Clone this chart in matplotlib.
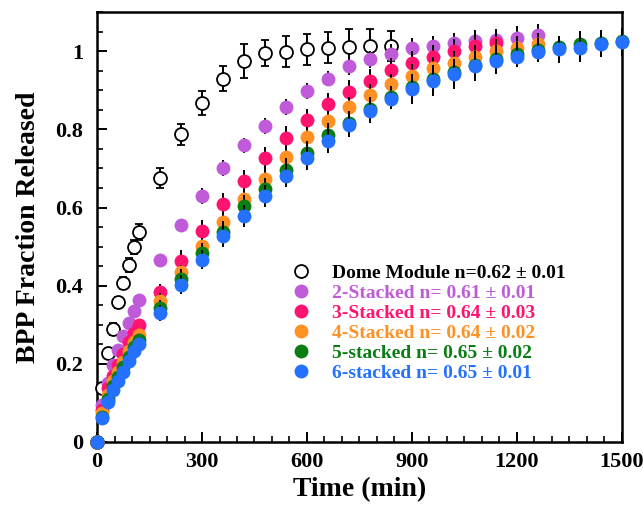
import matplotlib
matplotlib.use('Agg')
import matplotlib.pyplot as plt
from matplotlib.lines import Line2D
from matplotlib.ticker import MultipleLocator, FuncFormatter

plt.rcParams['font.family'] = ['Liberation Serif', 'DejaVu Serif']
plt.rcParams['font.weight'] = 'bold'

# time points (min)
t_dome = [0, 15, 30, 45, 60, 75, 90, 105, 120, 180, 240, 300, 360, 420, 480, 540, 600, 660, 720, 780, 840]
t_full = [0, 15, 30, 45, 60, 75, 90, 105, 120, 180, 240, 300, 360, 420, 480, 540, 600, 660, 720, 780, 840,
          900, 960, 1020, 1080, 1140, 1200, 1260, 1320, 1380, 1440, 1500]

# fraction released
dome = [0, 0.138, 0.227, 0.29, 0.357, 0.407, 0.454, 0.498, 0.537, 0.676, 0.787, 0.868, 0.930, 0.975,
        0.995, 0.999, 1.005, 1.009, 1.011, 1.014, 1.014]
dome_err = [0, 0.012, 0.012, 0.015, 0.015, 0.015, 0.018, 0.018, 0.02, 0.025, 0.026, 0.03, 0.032, 0.043,
            0.034, 0.04, 0.04, 0.04, 0.047, 0.043, 0.038]

stack2 = [0, 0.095, 0.152, 0.197, 0.236, 0.27, 0.304, 0.334, 0.364, 0.467, 0.556, 0.629, 0.702, 0.759,
          0.808, 0.857, 0.898, 0.930, 0.961, 0.979, 0.993, 1.008, 1.014, 1.022, 1.026, 1.029, 1.035, 1.041]
stack3 = [0, 0.082, 0.138, 0.168, 0.196, 0.226, 0.255, 0.279, 0.30, 0.385, 0.464, 0.541, 0.608, 0.667,
          0.726, 0.779, 0.823, 0.864, 0.896, 0.924, 0.953, 0.971, 0.986, 1.001, 1.014, 1.022]
stack4 = [0, 0.075, 0.12, 0.155, 0.18, 0.205, 0.232, 0.255, 0.274, 0.36, 0.434, 0.501, 0.564, 0.622,
          0.674, 0.729, 0.781, 0.821, 0.857, 0.887, 0.915, 0.937, 0.956, 0.971, 0.986, 1.001, 1.009, 1.018]
stack5 = [0, 0.065, 0.11, 0.142, 0.167, 0.192, 0.218, 0.242, 0.262, 0.343, 0.417, 0.484, 0.538, 0.603,
          0.648, 0.697, 0.740, 0.786, 0.817, 0.852, 0.882, 0.908, 0.929, 0.946, 0.966, 0.98, 0.993, 1.004,
          1.01, 1.018, 1.022, 1.025]
stack6 = [0, 0.061, 0.103, 0.132, 0.155, 0.180, 0.206, 0.232, 0.251, 0.33, 0.403, 0.467, 0.527, 0.578,
          0.629, 0.682, 0.726, 0.770, 0.810, 0.846, 0.877, 0.903, 0.924, 0.941, 0.961, 0.975, 0.986, 0.999,
          1.005, 1.009, 1.018, 1.024]

stack2_err = [0, 0.01, 0.01, 0.01, 0.01, 0.01, 0.01, 0.012, 0.012, 0.015, 0.015, 0.02, 0.02, 0.02,
              0.02, 0.02, 0.02, 0.02, 0.022, 0.022, 0.025, 0.025, 0.025, 0.025, 0.028, 0.028, 0.029, 0.03]
stack3_err = [0, 0.01, 0.01, 0.01, 0.012, 0.012, 0.012, 0.015, 0.015, 0.02, 0.028, 0.028, 0.03, 0.03,
              0.03, 0.03, 0.03, 0.03, 0.03, 0.03, 0.03, 0.03, 0.03, 0.03, 0.03, 0.03]
stack4_err = [0, 0.01, 0.01, 0.01, 0.012, 0.012, 0.012, 0.015, 0.015, 0.02, 0.02, 0.022, 0.025, 0.025,
              0.025, 0.025, 0.025, 0.025, 0.025, 0.028, 0.028, 0.03, 0.03, 0.03, 0.03, 0.03, 0.03, 0.03]
stack5_err = [0, 0.01, 0.01, 0.01, 0.012, 0.012, 0.012, 0.015, 0.015, 0.02, 0.025, 0.025, 0.028, 0.028,
              0.028, 0.03, 0.03, 0.03, 0.03, 0.03, 0.03, 0.035, 0.035, 0.035, 0.035, 0.035, 0.03, 0.03,
              0.03, 0.035, 0.032, 0.035]
stack6_err = [0, 0.01, 0.01, 0.01, 0.012, 0.012, 0.012, 0.015, 0.015, 0.02, 0.025, 0.025, 0.028, 0.028,
              0.028, 0.03, 0.03, 0.03, 0.03, 0.03, 0.02, 0.039, 0.039, 0.037, 0.037, 0.034, 0.027, 0.026,
              0.034, 0.036, 0.033, 0.035]

labels = ['Dome Module n=0.62 \u00b1 0.01', '2-Stacked n= 0.61 \u00b1 0.01', '3-Stacked n= 0.64 \u00b1 0.03',
          '4-Stacked n= 0.64 \u00b1 0.02', '5-stacked n= 0.65 \u00b1 0.02', '6-stacked n= 0.65 \u00b1 0.01']
colors = ['black', '#bf5bd8', '#ff136f', '#ff9124', '#0a7d14', '#2470ff']

fig = plt.figure(figsize=(6.43, 5.08), dpi=100)
ax = fig.add_axes([0.151, 0.130, 0.816, 0.846])

err_kw = dict(ecolor='black', elinewidth=1.4, capsize=2.6, capthick=1.4, clip_on=False)

ax.errorbar(t_dome, dome, yerr=dome_err, fmt='o', ms=9.3, mfc='white', mec='black', mew=1.3, zorder=3, **err_kw)

series = [stack2, stack3, stack4, stack5, stack6]
errs = [stack2_err, stack3_err, stack4_err, stack5_err, stack6_err]
for i, (ys, es) in enumerate(zip(series, errs)):
    ax.errorbar(t_full[:len(ys)], ys, yerr=es, fmt='o', ms=10, mfc=colors[i + 1], mec=colors[i + 1],
                mew=0, zorder=4 + i, **err_kw)

ax.set_xlim(0, 1500)
ax.set_ylim(0, 1.1)
ax.xaxis.set_major_locator(MultipleLocator(300))
ax.xaxis.set_minor_locator(MultipleLocator(50))
ax.yaxis.set_major_locator(MultipleLocator(0.2))
ax.yaxis.set_minor_locator(MultipleLocator(0.05))
ax.yaxis.set_major_formatter(FuncFormatter(lambda v, p: '%g' % round(v, 2)))
ax.tick_params(which='major', direction='in', length=7, width=1.4, labelsize=16)
ax.tick_params(axis='y', which='major', pad=10)
ax.tick_params(axis='x', which='major', pad=7)
ax.tick_params(which='minor', direction='in', length=4, width=1.2)
for s in ax.spines.values():
    s.set_linewidth(1.8)

ax.set_xlabel('Time (min)', fontsize=20, fontweight='bold', labelpad=4)
ax.set_ylabel('BPP Fraction Released', fontsize=20, fontweight='bold', labelpad=10)

handles = [Line2D([], [], ls='', marker='o', ms=9.3, mfc='white', mec='black', mew=1.3)]
for c in colors[1:]:
    handles.append(Line2D([], [], ls='', marker='o', ms=10, mfc=c, mec=c, mew=0))
ax.legend(handles, labels, loc='upper left', bbox_to_anchor=(0.33, 0.455), frameon=False,
          labelcolor=colors, labelspacing=0.13, handletextpad=0.9, handlelength=1.4,
          prop={'weight': 'bold', 'size': 14})

plt.savefig('out.png', dpi=100)
plt.close()
